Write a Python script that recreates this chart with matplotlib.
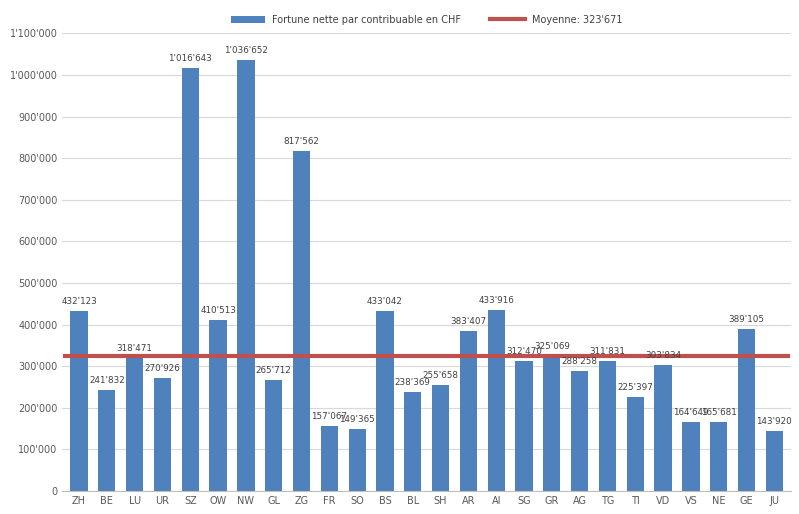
import matplotlib.pyplot as plt
from matplotlib.ticker import FuncFormatter

cantons = ["ZH", "BE", "LU", "UR", "SZ", "OW", "NW", "GL", "ZG", "FR", "SO", "BS", "BL",
           "SH", "AR", "AI", "SG", "GR", "AG", "TG", "TI", "VD", "VS", "NE", "GE", "JU"]
fortune = [432123, 241832, 318471, 270926, 1016643, 410513, 1036652, 265712, 817562,
           157067, 149365, 433042, 238369, 255658, 383407, 433916, 312470, 325069,
           288258, 311831, 225397, 303834, 164649, 165681, 389105, 143920]
moyenne = 323671


def swiss(v):
    return f"{int(v):,}".replace(",", "'")


fig, ax = plt.subplots(figsize=(7.99, 5.14), dpi=100)
fig.subplots_adjust(left=0.078, right=0.99, top=0.935, bottom=0.045)

x = range(len(cantons))
bars = ax.bar(x, fortune, width=0.62, color="#4F81BD", zorder=2,
              label="Fortune nette par contribuable en CHF")
line, = ax.plot([-0.5, len(cantons) - 0.5], [moyenne, moyenne], color="#C0504D", lw=3, zorder=3,
                label="Moyenne: " + swiss(moyenne))

for i, v in enumerate(fortune):
    ax.text(i, v + 12000, swiss(v), ha="center", va="bottom", fontsize=6.3, color="#404040", zorder=4)

ax.set_xlim(-0.6, len(cantons) - 0.4)
ax.set_ylim(0, 1100000)
ax.set_yticks(range(0, 1100001, 100000))
ax.yaxis.set_major_formatter(FuncFormatter(lambda v, p: swiss(v)))
ax.set_xticks(list(x))
ax.set_xticklabels(cantons)
ax.tick_params(labelsize=7, colors="#595959", length=0)
ax.grid(axis="y", color="#D9D9D9", lw=0.8, zorder=0)
for s in ["top", "right", "left"]:
    ax.spines[s].set_visible(False)
ax.spines["bottom"].set_color("#BFBFBF")

ax.legend(handles=[bars, line], loc="lower center", bbox_to_anchor=(0.5, 1.0), ncol=2,
          frameon=False, fontsize=7, labelcolor="#404040", handlelength=3.5, columnspacing=3)

fig.savefig("out.png")
